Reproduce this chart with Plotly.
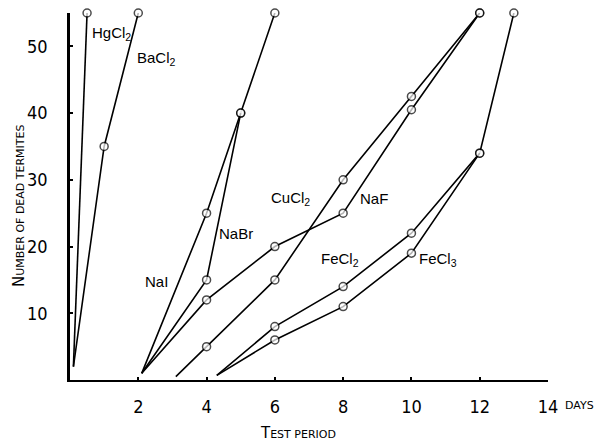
import plotly.graph_objects as go

# ---- data ----
days_HgCl2 = [0.1, 0.5]
dead_HgCl2 = [2, 55]
days_BaCl2 = [0.1, 1, 2]
dead_BaCl2 = [2, 35, 55]
days_NaI = [2.1, 4, 5, 6]
dead_NaI = [1, 25, 40, 55]
days_NaBr = [2.1, 4, 5]
dead_NaBr = [1, 15, 40]
days_NaF = [2.1, 4, 6, 8, 10, 12]
dead_NaF = [1, 12, 20, 25, 40.5, 55]
days_CuCl2 = [3.1, 4, 6, 8, 10, 12]
dead_CuCl2 = [0.5, 5, 15, 30, 42.5, 55]
days_FeCl2 = [4.3, 6, 8, 10, 12, 13]
dead_FeCl2 = [0.7, 8, 14, 22, 34, 55]
days_FeCl3 = [4.3, 6, 8, 10, 12]
dead_FeCl3 = [0.7, 6, 11, 19, 34]

x_ticks = [2, 4, 6, 8, 10, 12, 14]
y_ticks = [10, 20, 30, 40, 50]

series = [
    ("HgCl2", days_HgCl2, dead_HgCl2),
    ("BaCl2", days_BaCl2, dead_BaCl2),
    ("NaI", days_NaI, dead_NaI),
    ("NaBr", days_NaBr, dead_NaBr),
    ("NaF", days_NaF, dead_NaF),
    ("CuCl2", days_CuCl2, dead_CuCl2),
    ("FeCl2", days_FeCl2, dead_FeCl2),
    ("FeCl3", days_FeCl3, dead_FeCl3),
]

W, H = 608, 443
L, R, T, B = 70, 60, 13, 63
PW, PH = W - L - R, H - T - B

fig = go.Figure()
for name, xs, ys in series:
    sizes = [0] + [8] * (len(xs) - 1)
    fig.add_trace(go.Scatter(
        x=xs, y=ys, mode="lines+markers", name=name,
        line=dict(color="black", width=1.6),
        marker=dict(symbol="circle", size=sizes, color="white",
                    line=dict(color="black", width=1.5)),
        cliponaxis=False, showlegend=False,
    ))

LABEL_FONT = dict(family="Liberation Sans, Arial, sans-serif", size=15, color="black")


def px2paper(px, py):
    return (px - L) / PW, (H - B - py) / PH


labels = [
    ("HgCl<sub>2</sub>", 90, 34),
    ("BaCl<sub>2</sub>", 135, 59),
    ("NaI", 143, 281),
    ("NaBr", 217, 233),
    ("CuCl<sub>2</sub>", 269, 199),
    ("NaF", 358, 199),
    ("FeCl<sub>2</sub>", 319, 259),
    ("FeCl<sub>3</sub>", 417, 259),
]
for txt, px, py in labels:
    xp, yp = px2paper(px, py)
    fig.add_annotation(text=txt, x=xp, y=yp, xref="paper", yref="paper",
                       xanchor="left", yanchor="middle", showarrow=False,
                       font=LABEL_FONT)

# "DAYS" next to the 14 tick label
xp, yp = px2paper(563, 405)
fig.add_annotation(text="DAYS", x=xp, y=yp, xref="paper", yref="paper",
                   xanchor="left", yanchor="middle", showarrow=False,
                   font=dict(family="DejaVu Sans, sans-serif", size=11, color="black"))

# axis titles (small caps look)
xp, yp = px2paper(298, 433)
fig.add_annotation(text="T<span style='font-size:11px'>EST PERIOD</span>", x=xp, y=yp,
                   xref="paper", yref="paper", xanchor="center", yanchor="middle",
                   showarrow=False,
                   font=dict(family="DejaVu Sans, sans-serif", size=15, color="black"))
xp, yp = px2paper(19, 206)
fig.add_annotation(text="N<span style='font-size:11px'>UMBER OF DEAD TERMITES</span>", x=xp, y=yp,
                   xref="paper", yref="paper", xanchor="center", yanchor="middle",
                   textangle=-90, showarrow=False,
                   font=dict(family="DejaVu Sans, sans-serif", size=15, color="black"))

TICK_FONT = dict(family="Liberation Sans Narrow, DejaVu Sans Condensed, sans-serif", size=18, color="black")

fig.update_layout(
    width=W, height=H,
    margin=dict(l=L, r=R, t=T, b=B),
    paper_bgcolor="white", plot_bgcolor="white",
    xaxis=dict(range=[0, 14], tickvals=x_ticks, ticktext=[str(v) for v in x_ticks],
               showgrid=False, zeroline=False, showline=True, linecolor="black",
               linewidth=2, ticks="inside", ticklen=3, tickwidth=2, tickcolor="black",
               tickfont=TICK_FONT, ticklabelstandoff=9, fixedrange=True),
    yaxis=dict(range=[0, 55], tickvals=y_ticks, ticktext=[str(v) for v in y_ticks],
               showgrid=False, zeroline=False, showline=True, linecolor="black",
               linewidth=2.5, ticks="inside", ticklen=3, tickwidth=2, tickcolor="black",
               tickfont=TICK_FONT, ticklabelstandoff=16, fixedrange=True),
)

fig.write_html("out.html")
